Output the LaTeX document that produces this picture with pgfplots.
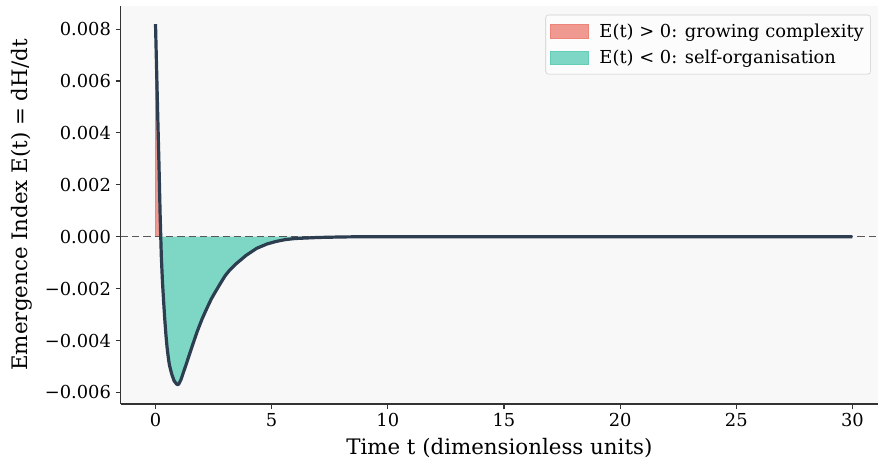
\documentclass[border=0pt]{standalone}
\usepackage{fontspec}
\setmainfont{DejaVu Serif}
\usepackage{pgfplots}
\usepackage{pgfplotstable}
\pgfplotsset{compat=1.18}

\definecolor{posfill}{RGB}{239,153,145}
\definecolor{negfill}{RGB}{126,215,197}
\definecolor{posedge}{RGB}{236,132,122}
\definecolor{negedge}{RGB}{100,205,182}
\definecolor{curvecol}{HTML}{2C3E50}
\definecolor{axbg}{RGB}{248,248,248}
\definecolor{zerocol}{RGB}{88,88,88}
\definecolor{legbg}{RGB}{252,252,252}

% E(t)
\pgfplotstableread{
t E
0.00 0.00819
0.05 0.00635
0.10 0.00450
0.15 0.00275
0.20 0.00080
0.25 -0.00075
0.30 -0.00175
0.35 -0.00250
0.40 -0.00320
0.45 -0.00380
0.50 -0.00428
0.55 -0.00465
0.60 -0.00495
0.70 -0.00530
0.80 -0.00555
0.90 -0.00567
0.95 -0.00570
1.00 -0.00568
1.10 -0.00550
1.20 -0.00523
1.30 -0.00497
1.40 -0.00470
1.50 -0.00443
1.60 -0.00416
1.80 -0.00364
2.00 -0.00318
2.20 -0.00278
2.40 -0.00240
2.60 -0.00209
2.80 -0.00179
3.00 -0.00150
3.20 -0.00128
3.50 -0.00102
3.90 -0.00072
4.35 -0.00045
4.80 -0.00028
5.20 -0.00018
5.60 -0.00011
6.00 -0.00007
6.50 -0.00005
7.00 -0.00003
8.00 -0.00001
9.00 0
30.00 0
}\curvedata

\pgfplotstableread{
t E
0.00 0
0.00 0.00819
0.05 0.00635
0.10 0.00450
0.15 0.00275
0.20 0.00080
0.226 0
}\posdata

\pgfplotstableread{
t E
0.226 0
0.25 -0.00075
0.30 -0.00175
0.35 -0.00250
0.40 -0.00320
0.45 -0.00380
0.50 -0.00428
0.55 -0.00465
0.60 -0.00495
0.70 -0.00530
0.80 -0.00555
0.90 -0.00567
0.95 -0.00570
1.00 -0.00568
1.10 -0.00550
1.20 -0.00523
1.30 -0.00497
1.40 -0.00470
1.50 -0.00443
1.60 -0.00416
1.80 -0.00364
2.00 -0.00318
2.20 -0.00278
2.40 -0.00240
2.60 -0.00209
2.80 -0.00179
3.00 -0.00150
3.20 -0.00128
3.50 -0.00102
3.90 -0.00072
4.35 -0.00045
4.80 -0.00028
5.20 -0.00018
5.60 -0.00011
6.00 -0.00007
6.50 -0.00005
7.00 -0.00003
8.00 -0.00001
9.00 0
}\negdata

\begin{document}
\begin{tikzpicture}
\useasboundingbox (-90.5pt,-47.25pt) rectangle (569.5pt,303pt);
\begin{axis}[
  at={(0,0)}, anchor=south west,
  scale only axis,
  width=568pt, height=298.5pt,
  xmin=-1.5, xmax=31.1,
  ymin=-0.006446, ymax=0.008889,
  axis x line*=bottom, axis y line*=left,
  axis line style={black!80, line width=1.1pt},
  axis background/.style={fill=axbg},
  tick align=outside,
  major tick length=3.75pt,
  tick style={black!80, line width=0.8pt},
  xtick={0,5,10,15,20,25,30},
  ytick={-0.006,-0.004,-0.002,0,0.002,0.004,0.006,0.008},
  yticklabels={−0.006,−0.004,−0.002,0.000,0.002,0.004,0.006,0.008},
  scaled y ticks=false,
  /pgf/number format/assume math mode=true,
  tick label style={font=\fontsize{13.4}{16}\selectfont},
  label style={font=\fontsize{16}{19}\selectfont},
  xlabel={Time t (dimensionless units)},
  ylabel={Emergence Index E(t) = dH/dt},
  xlabel style={at={(axis description cs:0.5,-0.1106)}, anchor=center},
  ylabel style={at={(axis description cs:-0.1303,0.5)}, anchor=center},
  legend cell align=left,
  legend image code/.code={\draw[#1, sharp corners] (0pt,-5pt) rectangle (28.8pt,5pt);},
  legend style={at={(0.9904,0.978)}, anchor=north east,
    draw=black!20, fill=legbg, rounded corners=2pt,
    font=\fontsize{13.4}{16}\selectfont,
    inner xsep=3pt, inner ysep=4.5pt, row sep=4pt,
    /tikz/every odd column/.append style={column sep=6pt}},
]
\addplot[fill=posfill, draw=posedge, line width=0.5pt] table[x=t, y=E] {\posdata};
\addlegendentry{E(t) > 0: growing complexity}
\addplot[fill=negfill, draw=negedge, line width=0.5pt] table[x=t, y=E] {\negdata};
\addlegendentry{E(t) < 0: self-organisation}
\addplot[forget plot, zerocol, line width=1.2pt, dash pattern=on 5.5pt off 3pt]
  coordinates {(-1.5,0) (31.1,0)};
\addplot[forget plot, curvecol, line width=2.4pt, line join=round] table[x=t, y=E] {\curvedata};
\end{axis}
\end{tikzpicture}
\end{document}
